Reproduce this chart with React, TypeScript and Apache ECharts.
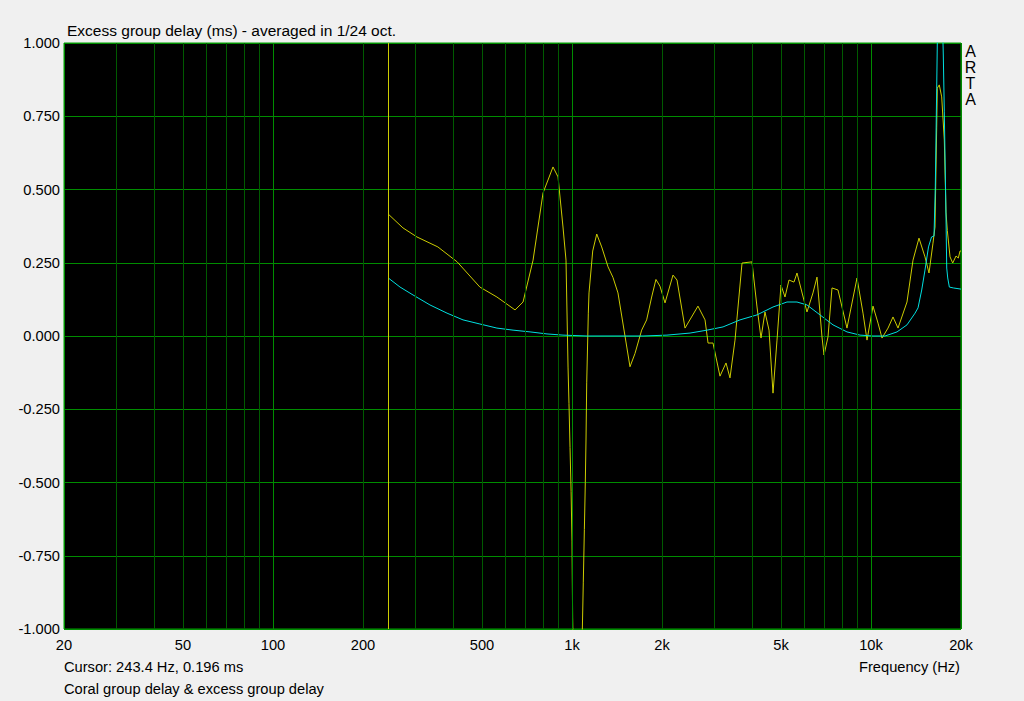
import React, { useEffect, useRef } from "react";
import * as echarts from "echarts";

// Yellow curve (group delay), frequency in Hz / value in ms
const gdFreq = [243, 272, 303, 356, 413, 492, 561, 645, 686, 741, 800, 864, 898, 933, 955, 970, 977, 985, 993, 1000, 1005, 1023, 1047, 1072, 1083, 1091, 1100, 1108, 1114, 1120, 1134, 1140, 1173, 1210, 1257, 1320, 1371, 1425, 1504, 1563, 1624, 1710, 1777, 1847, 1909, 1969, 2047, 2177, 2245, 2388, 2638, 2786, 2851, 2962, 3126, 3274, 3376, 3509, 3704, 3999, 4157, 4287, 4420, 4560, 4702, 4849, 5000, 5157, 5318, 5527, 5656, 6108, 6397, 6598, 6857, 6964, 7182, 7406, 7756, 8312, 8979, 9404, 9698, 10156, 10556, 10886, 11402, 11848, 12312, 13194, 13820, 14472, 15157, 15631, 16120, 16370, 16586, 16664, 16920, 17238, 17586, 17820, 18000, 18380, 18760, 19248, 19590, 19849, 20000];
const gdVal = [0.416, 0.369, 0.338, 0.304, 0.253, 0.167, 0.133, 0.089, 0.116, 0.259, 0.488, 0.577, 0.543, 0.372, 0.259, -0.106, -0.23, -0.38, -0.53, -0.70, -0.96, -1.4, -1.6, -1.4, -1.0, -0.84, -0.66, -0.50, -0.355, -0.16, 0.078, 0.147, 0.29, 0.348, 0.304, 0.236, 0.2, 0.147, 0.0, -0.105, -0.06, 0.02, 0.055, 0.133, 0.193, 0.17, 0.113, 0.208, 0.191, 0.027, 0.102, 0.055, -0.024, -0.024, -0.137, -0.092, -0.143, -0.014, 0.249, 0.253, 0.099, -0.007, 0.082, 0.02, -0.195, -0.014, 0.174, 0.133, 0.191, 0.184, 0.215, 0.082, 0.147, 0.201, -0.003, -0.065, -0.003, 0.164, 0.157, 0.027, 0.198, 0.078, -0.014, 0.102, 0.044, -0.007, 0.027, 0.065, 0.027, 0.116, 0.259, 0.334, 0.27, 0.215, 0.317, 0.372, 0.713, 0.846, 0.857, 0.816, 0.669, 0.423, 0.36, 0.27, 0.249, 0.273, 0.266, 0.29, 0.29];

// Cyan curve (excess group delay)
const egdFreq = [243, 266, 294, 335, 382, 432, 492, 561, 635, 724, 825, 933, 1123, 1728, 2078, 2482, 2829, 3200, 3647, 4157, 4702, 5236, 5656, 6108, 6752, 7464, 8312, 9190, 10156, 11140, 12222, 13194, 14040, 14366, 14778, 15157, 15570, 15940, 16246, 16410, 16586, 16716, 17000, 17318, 17452, 17586, 17777, 17918, 18056, 18284, 18849, 20000];
const egdVal = [0.198, 0.167, 0.14, 0.106, 0.078, 0.055, 0.041, 0.027, 0.02, 0.014, 0.007, 0.003, 0.0, 0.0, 0.003, 0.01, 0.02, 0.031, 0.055, 0.072, 0.099, 0.116, 0.116, 0.106, 0.072, 0.038, 0.014, 0.003, 0.0, 0.0, 0.014, 0.038, 0.078, 0.096, 0.157, 0.225, 0.304, 0.338, 0.341, 0.509, 0.846, 1.1, 1.5, 1.1, 0.959, 0.765, 0.474, 0.232, 0.198, 0.167, 0.164, 0.16];

const xTickLabels = [20, 50, 100, 200, 500, 1000, 2000, 5000, 10000, 20000];
const minorGrid = [30, 40, 50, 60, 70, 80, 90, 200, 300, 400, 500, 600, 700, 800, 900, 2000, 3000, 4000, 5000, 6000, 7000, 8000, 9000];
const majorGrid = [100, 1000, 10000];
const cursorFreq = 243.4;

const FONT = '"Liberation Sans", Arial, sans-serif';
const FS = 14.67;
const MAJOR = "#008c00";
const MINOR = "#005a00";

export default function App() {
  const ref = useRef<HTMLDivElement>(null);
  useEffect(() => {
    const chart = echarts.init(ref.current!, null, { renderer: "svg" });
    const fmtX = (v: number) => (v >= 1000 ? `${Math.round(v / 1000)}k` : `${v}`);
    chart.setOption({
      animation: false,
      backgroundColor: "#f0f0f0",
      grid: {
        left: 64,
        top: 43,
        width: 897,
        height: 586,
        show: true,
        backgroundColor: "#000000",
        borderColor: "#00a000",
        borderWidth: 1,
      },
      xAxis: {
        type: "log",
        logBase: 10,
        min: 20,
        max: 20000,
        axisLine: { show: false },
        axisTick: { show: false },
        splitLine: { show: true, lineStyle: { color: MAJOR, width: 1 } },
        minorTick: { show: false },
        minorSplitLine: { show: false },
        axisLabel: {
          customValues: xTickLabels,
          formatter: (v: number) => fmtX(v),
          color: "#000",
          fontFamily: FONT,
          fontSize: FS,
          margin: 16,
          verticalAlign: "middle",
        },
      },
      yAxis: {
        type: "value",
        min: -1,
        max: 1,
        interval: 0.25,
        axisLine: { show: false },
        axisTick: { show: false },
        splitLine: { show: true, lineStyle: { color: MAJOR, width: 1 } },
        axisLabel: {
          formatter: (v: number) => v.toFixed(3),
          color: "#000",
          fontFamily: FONT,
          fontSize: FS,
          margin: 4,
        },
      },
      series: [
        {
          type: "line",
          name: "grid",
          data: [[20, 0], [20000, 0]],
          symbol: "none",
          lineStyle: { opacity: 0 },
          silent: true,
          z: 1,
          markLine: {
            silent: true,
            symbol: ["none", "none"],
            label: { show: false },
            animation: false,
            data: [
              ...minorGrid.map((f) => ({ xAxis: f, lineStyle: { color: MINOR, width: 1, type: "solid" } })),
              ...majorGrid.map((f) => ({ xAxis: f, lineStyle: { color: MAJOR, width: 1, type: "solid" } })),
            ],
          },
        },
        {
          type: "line",
          name: "Coral group delay",
          data: gdFreq.map((f, i) => [f, gdVal[i]]),
          symbol: "none",
          clip: true,
          z: 3,
          lineStyle: { color: "#cccc00", width: 1 },
          markLine: {
            silent: true,
            symbol: ["none", "none"],
            label: { show: false },
            animation: false,
            data: [{ xAxis: cursorFreq, lineStyle: { color: "#cccc00", width: 1, type: "solid" } }],
          },
        },
        {
          type: "line",
          name: "excess group delay",
          data: egdFreq.map((f, i) => [f, egdVal[i]]),
          symbol: "none",
          clip: true,
          z: 4,
          lineStyle: { color: "#00e0e0", width: 1 },
        },
      ],
      graphic: [
        {
          type: "text",
          x: 67,
          y: 30,
          style: { text: "Excess group delay (ms) - averaged in 1/24 oct.", font: `15.5px ${FONT}`, fill: "#000", verticalAlign: "middle" },
        },
        {
          type: "text",
          x: 970.5,
          y: 43,
          style: { text: "A\nR\nT\nA", font: `16px ${FONT}`, lineHeight: 16, fill: "#000", align: "center", verticalAlign: "top" },
        },
        {
          type: "text",
          x: 64,
          y: 667,
          style: { text: "Cursor: 243.4 Hz, 0.196 ms", font: `${FS}px ${FONT}`, fill: "#000", verticalAlign: "middle" },
        },
        {
          type: "text",
          x: 64,
          y: 689,
          style: { text: "Coral group delay & excess group delay", font: `${FS}px ${FONT}`, fill: "#000", verticalAlign: "middle" },
        },
        {
          type: "text",
          x: 960,
          y: 667,
          style: { text: "Frequency (Hz)", font: `${FS}px ${FONT}`, fill: "#000", align: "right", verticalAlign: "middle" },
        },
      ],
    });
    return () => chart.dispose();
  }, []);
  return <div ref={ref} style={{ position: "absolute", left: 0, top: 0, width: 1024, height: 701 }} />;
}
